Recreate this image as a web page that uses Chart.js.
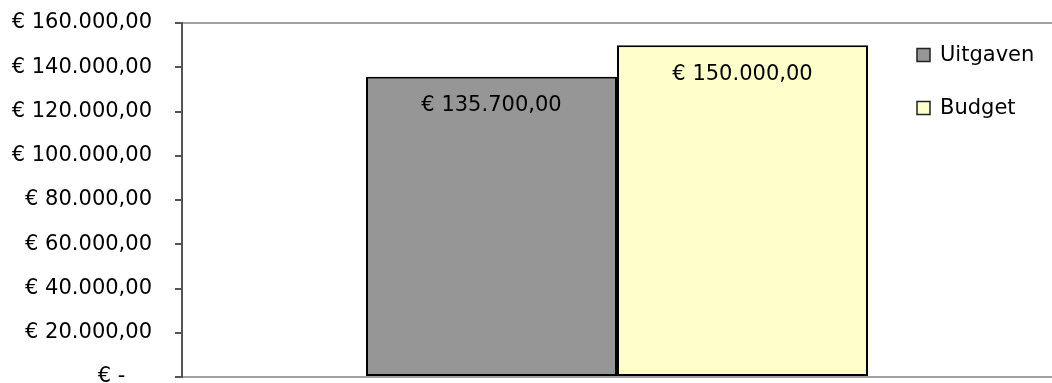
<!DOCTYPE html>
<html>
<head>
<meta charset="utf-8">
<script src="https://cdn.jsdelivr.net/npm/chart.js@4/dist/chart.umd.min.js"></script>
<style>
  html, body { margin: 0; padding: 0; background: #fff; }
  #wrap { width: 1052px; height: 383px; position: relative; }
</style>
</head>
<body>
<div id="wrap"><canvas id="budgetChart"></canvas></div>
<script>
// chart data
const categories = [""];
const seriesNames = ["Uitgaven", "Budget"];
const uitgaven = [135700];
const budget = [150000];
const yTicks = [0, 20000, 40000, 60000, 80000, 100000, 120000, 140000, 160000];

const FONT = "'DejaVu Sans', Verdana, sans-serif";
const FONT_SIZE = 21;

// euro formatting, dutch style: € 135.700,00
function euro(v) {
  const parts = v.toFixed(2).split(".");
  const whole = parts[0].replace(/\B(?=(\d{3})+(?!\d))/g, ".");
  return "€ " + whole + "," + parts[1];
}

function axisLabel(v) {
  if (v === 0) return "€ -\u2007\u2007";
  return euro(v);
}

// values written inside the top of each bar
const barLabels = {
  id: "barLabels",
  afterDatasetsDraw(chart) {
    const ctx = chart.ctx;
    ctx.save();
    ctx.font = FONT_SIZE + "px " + FONT;
    ctx.fillStyle = "#000";
    ctx.textAlign = "center";
    ctx.textBaseline = "middle";
    chart.data.datasets.forEach((ds, i) => {
      chart.getDatasetMeta(i).data.forEach((bar, j) => {
        ctx.fillText(euro(ds.data[j]), bar.x, bar.y + 29);
      });
    });
    ctx.restore();
  },
};

// legend on the right, inside the plot like excel does
const sideLegend = {
  id: "sideLegend",
  afterDraw(chart, args, opts) {
    const ctx = chart.ctx;
    ctx.save();
    ctx.font = FONT_SIZE + "px " + FONT;
    ctx.textBaseline = "middle";
    chart.data.datasets.forEach((ds, i) => {
      const cy = opts.top + i * opts.gap;
      ctx.fillStyle = ds.backgroundColor;
      ctx.fillRect(opts.left, cy - 6.5, 13, 13);
      ctx.strokeStyle = "#222";
      ctx.lineWidth = 1.5;
      ctx.strokeRect(opts.left, cy - 6.5, 13, 13);
      ctx.fillStyle = "#000";
      ctx.fillText(ds.label, opts.left + 23, cy + 1);
    });
    ctx.restore();
  },
};

const ctx = document.getElementById("budgetChart").getContext("2d");

new Chart(ctx, {
  type: "bar",
  data: {
    labels: categories,
    datasets: [
      {
        label: seriesNames[0],
        data: uitgaven,
        backgroundColor: "#969696",
        borderColor: "#000",
        borderWidth: 2,
        borderSkipped: false,
      },
      {
        label: seriesNames[1],
        data: budget,
        backgroundColor: "#FFFFCC",
        borderColor: "#000",
        borderWidth: 2,
        borderSkipped: false,
      },
    ],
  },
  options: {
    responsive: true,
    maintainAspectRatio: false,
    animation: false,
    categoryPercentage: 0.577,
    barPercentage: 1,
    layout: { padding: { top: 23, bottom: 6, left: 0, right: 0 } },
    plugins: {
      legend: { display: false },
      tooltip: { enabled: false },
      sideLegend: { left: 917, top: 55, gap: 53 },
    },
    scales: {
      x: {
        grid: { display: false },
        ticks: { display: false },
        border: { color: "#a0a0a0", width: 2 },
        afterFit: (scale) => {
          scale.height = 0;
          scale.paddingLeft = 0;
          scale.paddingRight = 0;
        },
      },
      y: {
        min: 0,
        max: 160000,
        afterBuildTicks: (scale) => {
          scale.ticks = yTicks.map((v) => ({ value: v }));
        },
        ticks: {
          padding: 23,
          color: "#000",
          font: { family: FONT, size: FONT_SIZE },
          callback: (v) => axisLabel(v),
        },
        grid: {
          color: (c) => (c.tick && c.tick.value === 160000 ? "#a0a0a0" : "rgba(0,0,0,0)"),
          lineWidth: 2,
          tickColor: "#555",
          tickLength: 7,
        },
        border: { color: "#555", width: 2 },
        afterFit: (scale) => {
          scale.width = 182;
          scale.paddingTop = 0;
          scale.paddingBottom = 0;
        },
      },
    },
  },
  plugins: [barLabels, sideLegend],
});
</script>
</body>
</html>
